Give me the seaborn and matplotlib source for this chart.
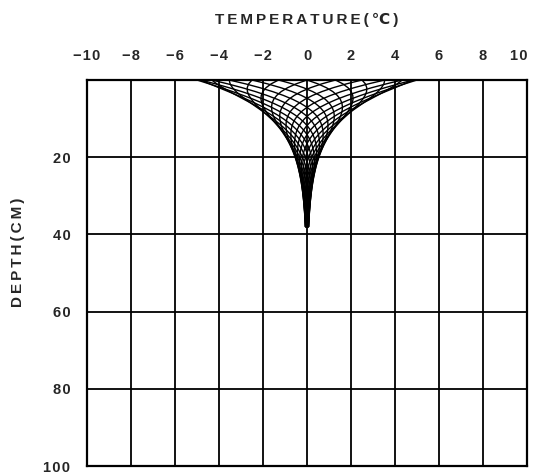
import numpy as np
import pandas as pd
import matplotlib
matplotlib.use("Agg")
import matplotlib.pyplot as plt
import seaborn as sns

# diurnal soil temperature wave
surface_amp = 5.0        # deg C, half range at the surface
damping_depth = 9.0      # cm, where amplitude falls to 1/e
hours = list(range(24))  # one profile per hour
depths = [0, 1, 2, 3, 4, 5, 6, 7, 8, 9, 10, 11, 12, 13, 14, 15, 16, 17, 18, 19, 20,
          21, 22, 23, 24, 25, 26, 27, 28, 29, 30, 31, 32, 33, 34, 35, 36, 37, 38]

x_ticks = [-10, -8, -6, -4, -2, 0, 2, 4, 6, 8, 10]
y_ticks = [20, 40, 60, 80, 100]

rows = []
for h in hours:
    phase = 2 * np.pi * h / len(hours)
    for z in depths:
        t = surface_amp * np.exp(-z / damping_depth) * np.sin(phase - z / damping_depth)
        rows.append({"hour": h, "depth": z, "temp": t})
df = pd.DataFrame(rows)

sns.set_style("white")
plt.rcParams["font.family"] = ["Liberation Sans", "DejaVu Sans"]

sp = "\u2009"
hair = "\u200a"

def spaced(v):
    s = "\u2212" + str(-v) if v < 0 else str(v)
    return hair.join(s)

fig = plt.figure(figsize=(5.35, 4.74), dpi=100)
ax = fig.add_axes([87 / 535, 1 - 466 / 474, 440 / 535, 386 / 474])

sns.lineplot(data=df, x="temp", y="depth", units="hour", estimator=None, sort=False,
             color="black", linewidth=1.0, ax=ax)

ax.set_xlim(-10, 10)
ax.set_ylim(100, 0)
ax.set_xticks(x_ticks)
ax.set_xticklabels([spaced(v) for v in x_ticks])
ax.set_yticks(y_ticks)
ax.set_yticklabels([spaced(v) for v in y_ticks])
ax.xaxis.tick_top()
ax.tick_params(axis="both", length=0, labelsize=10.5)
ax.tick_params(axis="x", pad=12)
ax.tick_params(axis="y", pad=12)
for lab in ax.get_xticklabels() + ax.get_yticklabels():
    lab.set_fontweight("bold")
ax.get_xticklabels()[-1].set_horizontalalignment("right")
ax.grid(True, color="black", linewidth=1.3)
for s in ax.spines.values():
    s.set_color("black")
    s.set_linewidth(1.6)
ax.set_xlabel("")
ax.set_ylabel("")

fig.text(307 / 535, 1 - 20 / 474, sp.join("TEMPERATURE(\u2103)"), ha="center", va="center",
         fontsize=11, fontweight="bold")
fig.text(18 / 535, 1 - 252 / 474, sp.join("DEPTH(CM)"), ha="center", va="center",
         rotation=90, fontsize=11, fontweight="bold")

fig.savefig("out.png", dpi=100)
